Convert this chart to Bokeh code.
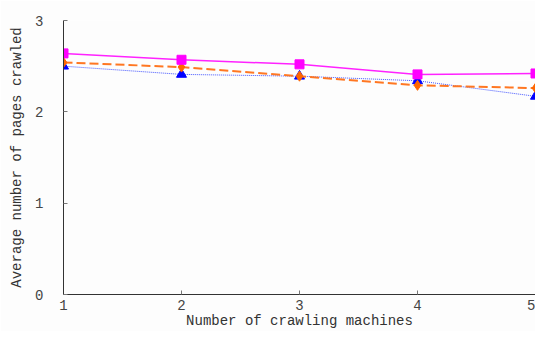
from bokeh.plotting import figure
from bokeh.embed import file_html
from bokeh.resources import INLINE
from bokeh.models import Range1d, FixedTicker

machines = [1, 2, 3, 4, 5]
series_pink = [2.64, 2.57, 2.52, 2.41, 2.42]
series_orange = [2.54, 2.49, 2.39, 2.29, 2.26]
series_blue = [2.50, 2.41, 2.39, 2.34, 2.17]
x_ticks = [1, 2, 3, 4, 5]
y_ticks = [0, 1, 2, 3]
x_label = "Number of crawling machines"
y_label = "Average number of pages crawled"

p = figure(width=535, height=331, output_backend="svg", toolbar_location=None,
           x_range=Range1d(1, 5), y_range=Range1d(0, 3),
           min_border_left=63, min_border_right=0, min_border_top=20, min_border_bottom=37,
           background_fill_color="#fdfdfd", border_fill_color="#fdfdfd")
p.outline_line_color = None
p.grid.grid_line_color = None

p.line(machines, series_blue, line_color="#4455ff", line_width=1, line_dash="1 1")
p.scatter(machines, series_blue, marker="triangle", size=10, fill_color="#0000ff", line_color="#0000ff")
p.line(machines, series_orange, line_color="#ff7722", line_width=2, line_dash="9 4")
p.scatter(machines, series_orange, marker="diamond", size=10, fill_color="#ff6600", line_color="#ff6600")
p.line(machines, series_pink, line_color="#ff22ff", line_width=1.5)
p.scatter(machines, series_pink, marker="square", size=9, fill_color="#ff00ff", line_color="#ff00ff")

for ax in (p.xaxis[0], p.yaxis[0]):
    ax.axis_line_color = "#333333"
    ax.major_tick_line_color = "#777777"
    ax.major_tick_in = 4
    ax.major_tick_out = 0
    ax.minor_tick_line_color = None
    ax.major_label_text_font = "Liberation Mono"
    ax.major_label_text_font_size = "14px"
    ax.major_label_text_color = "#444444"
    ax.axis_label_text_font = "Liberation Mono"
    ax.axis_label_text_font_size = "14px"
    ax.axis_label_text_font_style = "normal"
    ax.axis_label_text_color = "#333333"

p.xaxis[0].ticker = FixedTicker(ticks=x_ticks)
p.yaxis[0].ticker = FixedTicker(ticks=y_ticks)
p.xaxis[0].major_label_standoff = 5
p.xaxis[0].axis_label = x_label
p.xaxis[0].axis_label_standoff = 0
p.yaxis[0].major_label_standoff = 20
p.yaxis[0].axis_label = y_label
p.yaxis[0].axis_label_standoff = 7

open("out.html", "w").write(file_html(p, INLINE))
